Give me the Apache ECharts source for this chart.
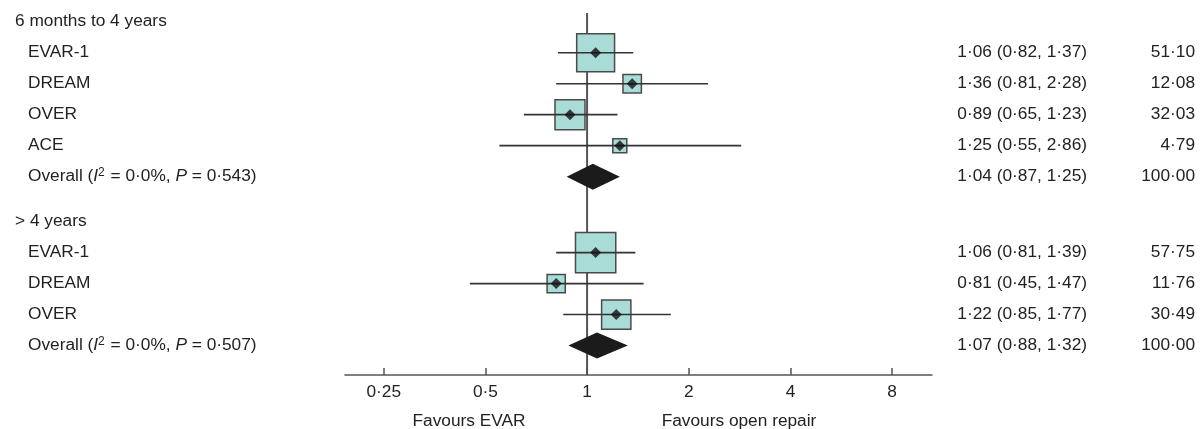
<!DOCTYPE html>
<html>
<head>
<meta charset="utf-8">
<script src="https://cdn.jsdelivr.net/npm/echarts@6/dist/echarts.min.js"></script>
<style>
  html, body { margin: 0; padding: 0; background: #fff; }
  #chart { width: 1204px; height: 429px; }
</style>
</head>
<body>
<div id="chart"></div>
<script>
// group 1: 6 months to 4 years
const g1Title = '6 months to 4 years'
const g1Studies = ['EVAR-1', 'DREAM', 'OVER', 'ACE']
const g1Or = [1.06, 1.36, 0.89, 1.25]
const g1Lo = [0.82, 0.81, 0.65, 0.55]
const g1Hi = [1.37, 2.28, 1.23, 2.86]
const g1Weight = [51.10, 12.08, 32.03, 4.79]
const g1Overall = [1.04, 0.87, 1.25]
const g1P = '0·543'

// group 2: > 4 years
const g2Title = '> 4 years'
const g2Studies = ['EVAR-1', 'DREAM', 'OVER']
const g2Or = [1.06, 0.81, 1.22]
const g2Lo = [0.81, 0.45, 0.85]
const g2Hi = [1.39, 1.47, 1.77]
const g2Weight = [57.75, 11.76, 30.49]
const g2Overall = [1.07, 0.88, 1.32]
const g2P = '0·507'

const tickValues = [0.25, 0.5, 1, 2, 4, 8]
const xLabelLeft = 'Favours EVAR'
const xLabelRight = 'Favours open repair'

const FONT = '"Liberation Sans", Arial, Helvetica, sans-serif'
const FS = 17.3
const TXT = '#222'

const fmt = (v) => v.toFixed(2).replace('.', '·')
const lg = (v) => Math.log2(v)

// build row layout
const groups = [
  { title: g1Title, names: g1Studies, or: g1Or, lo: g1Lo, hi: g1Hi, w: g1Weight, overall: g1Overall, p: g1P, start: 0 },
  { title: g2Title, names: g2Studies, or: g2Or, lo: g2Lo, hi: g2Hi, w: g2Weight, overall: g2Overall, p: g2P, start: 6.45 }
]
const rows = []
groups.forEach(g => {
  rows.push({ y: g.start, kind: 'header', label: g.title })
  g.names.forEach((n, i) => {
    rows.push({ y: g.start + 1 + i, kind: 'study', label: n, or: g.or[i], lo: g.lo[i], hi: g.hi[i], w: g.w[i] })
  })
  rows.push({ y: g.start + 1 + g.names.length, kind: 'overall', p: g.p, or: g.overall[0], lo: g.overall[1], hi: g.overall[2], w: 100 })
})
const studies = rows.filter(r => r.kind === 'study')
const overalls = rows.filter(r => r.kind === 'overall')

const chart = echarts.init(document.getElementById('chart'))

const option = {
  animation: false,
  backgroundColor: '#fff',
  grid: { left: 345, right: 272, top: 12.4, bottom: 54, outerBoundsMode: 'none', containLabel: false },
  xAxis: {
    type: 'value',
    position: 'bottom',
    min: lg(0.192),
    max: lg(10.5),
    splitLine: { show: false },
    axisLine: { onZero: false, lineStyle: { color: '#555', width: 1.5 } },
    axisTick: { inside: true, length: 7, lineStyle: { color: '#555', width: 1.5 }, customValues: tickValues.map(lg) },
    axisLabel: {
      customValues: tickValues.map(lg),
      margin: 9,
      color: TXT,
      fontSize: FS,
      fontFamily: FONT,
      formatter: (v) => String(+Math.pow(2, v).toFixed(2)).replace('.', '·')
    }
  },
  yAxis: { type: 'value', inverse: true, min: -0.3, max: 11.4, show: false },
  graphic: [
    { type: 'text', x: 469, y: 421, style: { text: xLabelLeft, fontSize: FS, fontFamily: FONT, fill: TXT, align: 'center', verticalAlign: 'middle' } },
    { type: 'text', x: 739, y: 421, style: { text: xLabelRight, fontSize: FS, fontFamily: FONT, fill: TXT, align: 'center', verticalAlign: 'middle' } }
  ],
  series: [
    {
      // line of no effect
      type: 'custom',
      z: 1,
      silent: true,
      clip: false,
      data: [[0, -0.28, 11.4]],
      renderItem: (params, api) => {
        const a = api.coord([api.value(0), api.value(1)])
        const b = api.coord([api.value(0), api.value(2)])
        return {
          type: 'line',
          shape: { x1: a[0], y1: a[1], x2: b[0], y2: b[1] },
          style: { stroke: '#555', lineWidth: 2 }
        }
      }
    },
    {
      // weight boxes
      type: 'custom',
      z: 2,
      data: studies.map(r => [lg(r.or), r.y, r.w]),
      renderItem: (params, api) => {
        const p = api.coord([api.value(0), api.value(1)])
        const s = Math.max(14, 5.3 * Math.sqrt(api.value(2)))
        return {
          type: 'rect',
          shape: { x: p[0] - s / 2, y: p[1] - s / 2, width: s, height: s },
          style: { fill: '#a9dcd6', stroke: '#4a4a4a', lineWidth: 1.5 }
        }
      }
    },
    {
      // confidence intervals
      type: 'custom',
      z: 3,
      clip: false,
      data: studies.map(r => [lg(r.lo), lg(r.hi), r.y]),
      renderItem: (params, api) => {
        const a = api.coord([api.value(0), api.value(2)])
        const b = api.coord([api.value(1), api.value(2)])
        return {
          type: 'line',
          shape: { x1: a[0], y1: a[1], x2: b[0], y2: b[1] },
          style: { stroke: '#333', lineWidth: 1.6 }
        }
      }
    },
    {
      // point estimates
      type: 'scatter',
      z: 4,
      data: studies.map(r => [lg(r.or), r.y]),
      symbol: 'diamond',
      symbolSize: 11,
      itemStyle: { color: '#111' }
    },
    {
      // pooled estimates
      type: 'custom',
      z: 4,
      data: overalls.map(r => [lg(r.or), lg(r.lo), lg(r.hi), r.y]),
      renderItem: (params, api) => {
        const y = api.value(3)
        const c = api.coord([api.value(0), y])
        const l = api.coord([api.value(1), y])
        const h = api.coord([api.value(2), y])
        return {
          type: 'polygon',
          shape: { points: [[l[0], c[1]], [c[0], c[1] - 13], [h[0], c[1]], [c[0], c[1] + 13]] },
          style: { fill: '#1b1b1b' }
        }
      }
    },
    {
      // text columns
      type: 'custom',
      z: 5,
      clip: false,
      silent: true,
      data: rows.map(r => [0, r.y]),
      renderItem: (params, api) => {
        const r = rows[params.dataIndex]
        const y = api.coord([0, r.y])[1]
        const base = { fontSize: FS, fontFamily: FONT, fill: TXT, verticalAlign: 'middle' }
        const kids = []
        if (r.kind === 'header') {
          kids.push({ type: 'text', x: 15, y: y, style: Object.assign({}, base, { text: r.label }) })
        } else if (r.kind === 'study') {
          kids.push({ type: 'text', x: 28, y: y, style: Object.assign({}, base, { text: r.label }) })
        } else {
          kids.push({
            type: 'text', x: 28, y: y,
            style: Object.assign({}, base, {
              text: '{n|Overall (}{i|I}{s|2}{n| = 0·0%, }{i|P}{n| = ' + r.p + ')}',
              rich: {
                n: { fontSize: FS, fontFamily: FONT, fill: TXT },
                i: { fontSize: FS, fontFamily: FONT, fill: TXT, fontStyle: 'italic' },
                s: { fontSize: 12, fontFamily: FONT, fill: TXT, padding: [0, 1, 7, 0] }
              }
            })
          })
        }
        if (r.kind !== 'header') {
          kids.push({ type: 'text', x: 1087, y: y, style: Object.assign({}, base, { align: 'right', text: fmt(r.or) + ' (' + fmt(r.lo) + ', ' + fmt(r.hi) + ')' }) })
          kids.push({ type: 'text', x: 1195, y: y, style: Object.assign({}, base, { align: 'right', text: fmt(r.w) }) })
        }
        return { type: 'group', children: kids }
      }
    }
  ]
}

chart.setOption(option)
window.addEventListener('resize', () => chart.resize())
</script>
</body>
</html>
